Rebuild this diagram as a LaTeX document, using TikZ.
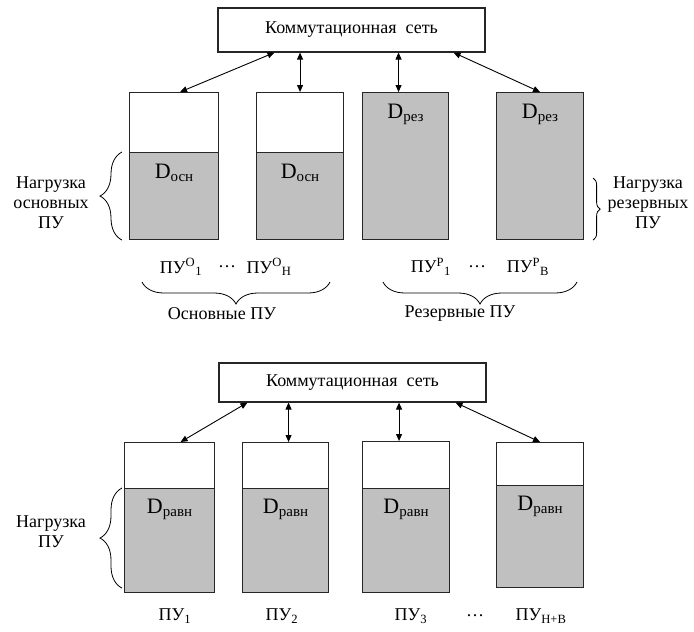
\documentclass[tikz,border=0pt]{standalone}
\usepackage{fontspec}
\setmainfont{Liberation Serif}
\usepackage{tikz}
\usetikzlibrary{decorations.pathreplacing,arrows.meta,positioning}

\definecolor{loadgray}{RGB}{192,192,192}
\newcommand{\Dlbl}[1]{{\fontsize{22}{24}\selectfont D}\raisebox{-2.5pt}{\fontsize{15}{16}\selectfont #1}}

\tikzset{
    netbox/.style={draw=black!85, line width=1.1pt, fill=white, inner sep=0pt},
    pubox/.style={draw=black!85, line width=1.1pt, fill=white, inner sep=0pt, anchor=north west},
    loadbox/.style={draw=black!85, line width=1.1pt, fill=loadgray, inner sep=0pt, anchor=south west},
    link/.style={{Triangle[length=7pt,width=6pt]}-{Triangle[length=7pt,width=6pt]}, line width=0.9pt},
    loadbrace/.style={decorate, decoration={brace,amplitude=#1}, line width=0.8pt},
    loadbrace/.default=22pt
}

\begin{document}
\begin{tikzpicture}[x=1pt, y=-1pt, font=\fontsize{18}{20}\selectfont]
    \useasboundingbox (0,0) rectangle (694,632);

    % upper scheme
    \node[netbox, minimum width=267pt, minimum height=44pt] (net) at (351.5,30) {Коммутационная\ \ сеть};

    \node[pubox, minimum width=89pt, minimum height=147pt] (p1) at (129,92) {};
    \node[loadbox, minimum width=89pt, minimum height=87pt] (p1d) at (p1.south west) {};
    \node[pubox, minimum width=87pt, minimum height=147pt] (p2) at (256,92) {};
    \node[loadbox, minimum width=87pt, minimum height=87pt] (p2d) at (p2.south west) {};
    \node[pubox, fill=loadgray, minimum width=86pt, minimum height=147pt] (p3) at (362,92) {};
    \node[pubox, fill=loadgray, minimum width=87pt, minimum height=147pt] (p4) at (496,92) {};

    \node[below=9pt of p1d.north] (t1) {\Dlbl{осн}};
    \node[below=9pt of p2d.north] (t2) {\Dlbl{осн}};
    \node[below=9pt of p3.north] (t3) {\Dlbl{рез}};
    \node[below=9pt of p4.north] (t4) {\Dlbl{рез}};

    \draw[link] ([xshift=6pt]p1.north) -- ([xshift=57pt]net.south west);
    \draw[link] (p2.north) -- (p2.north |- net.south);
    \draw[link] ([xshift=-7pt]p3.north) -- ([xshift=-7pt]p3.north |- net.south);
    \draw[link] (p4.north) -- ([xshift=-32pt]net.south east);

    \draw[loadbrace] ([xshift=-7pt]p1d.south west) -- ([xshift=-7pt]p1d.north west);
    \draw[loadbrace=7pt] ([xshift=9pt,yshift=62pt]p4.south east) -- ([xshift=9pt]p4.south east);
    \node[align=center] (lmain) at (51,203) {Нагрузка\\основных\\ПУ};
    \node[align=center] (lres) at (648,203) {Нагрузка\\резервных\\ПУ};

    \node (n1) at (181,267) {ПУ\textsuperscript{О}\textsubscript{1}};
    \node (n2) at (227,267) {\dots};
    \node (n3) at (269,267) {ПУ\textsuperscript{О}\textsubscript{Н}};
    \node (r1) at (431,267) {ПУ\textsuperscript{Р}\textsubscript{1}};
    \node (r2) at (477,267) {\dots};
    \node (r3) at (528,267) {ПУ\textsuperscript{Р}\textsubscript{В}};

    \node (X1) at (142,282) {};
    \node (X2) at (330,282) {};
    \node (X3) at (383,282) {};
    \node (X4) at (577,282) {};
    \draw[loadbrace, decoration={mirror}] (X1.center) -- (X2.center);
    \draw[loadbrace, decoration={mirror}] (X3.center) -- (X4.center);
    \node (gmain) at (222,314) {Основные ПУ};
    \node (gres) at (460,314) {Резервные ПУ};

    % lower scheme
    \node[netbox, minimum width=267pt, minimum height=39pt] (net2) at (352.5,382.5) {Коммутационная\ \ сеть};

    \node[pubox, minimum width=90pt, minimum height=150pt] (q1) at (124,442) {};
    \node[loadbox, minimum width=90pt, minimum height=104pt] (q1d) at (q1.south west) {};
    \node[pubox, minimum width=86pt, minimum height=150pt] (q2) at (242,442) {};
    \node[loadbox, minimum width=86pt, minimum height=104pt] (q2d) at (q2.south west) {};
    \node[pubox, minimum width=87pt, minimum height=151pt] (q3) at (362,441) {};
    \node[loadbox, minimum width=87pt, minimum height=104pt] (q3d) at (q3.south west) {};
    \node[pubox, minimum width=87pt, minimum height=145pt] (q4) at (496,442) {};
    \node[loadbox, minimum width=87pt, minimum height=102pt] (q4d) at (q4.south west) {};

    \node[below=8pt of q1d.north] (s1) {\Dlbl{равн}};
    \node[below=8pt of q2d.north] (s2) {\Dlbl{равн}};
    \node[below=8pt of q3d.north] (s3) {\Dlbl{равн}};
    \node[below=8pt of q4d.north] (s4) {\Dlbl{равн}};

    \draw[link] ([xshift=11pt]q1.north) -- ([xshift=29pt]net2.south west);
    \draw[link] ([xshift=3pt]q2.north) -- ([xshift=3pt]q2.north |- net2.south);
    \draw[link] ([xshift=-7pt]q3.north) -- ([xshift=-7pt]q3.north |- net2.south);
    \draw[link] (q4.north) -- ([xshift=-31pt]net2.south east);

    \draw[loadbrace] ([xshift=-2pt,yshift=5pt]q1d.south west) -- ([xshift=-2pt]q1d.north west);
    \node[align=center] (lall) at (51,532) {Нагрузка\\ПУ};

    \node (u1) at (175,616) {ПУ\textsubscript{1}};
    \node (u2) at (282,616) {ПУ\textsubscript{2}};
    \node (u3) at (411,616) {ПУ\textsubscript{3}};
    \node (u4) at (475,616) {\dots};
    \node (u5) at (541,616) {ПУ\textsubscript{Н+В}};
\end{tikzpicture}
\end{document}
